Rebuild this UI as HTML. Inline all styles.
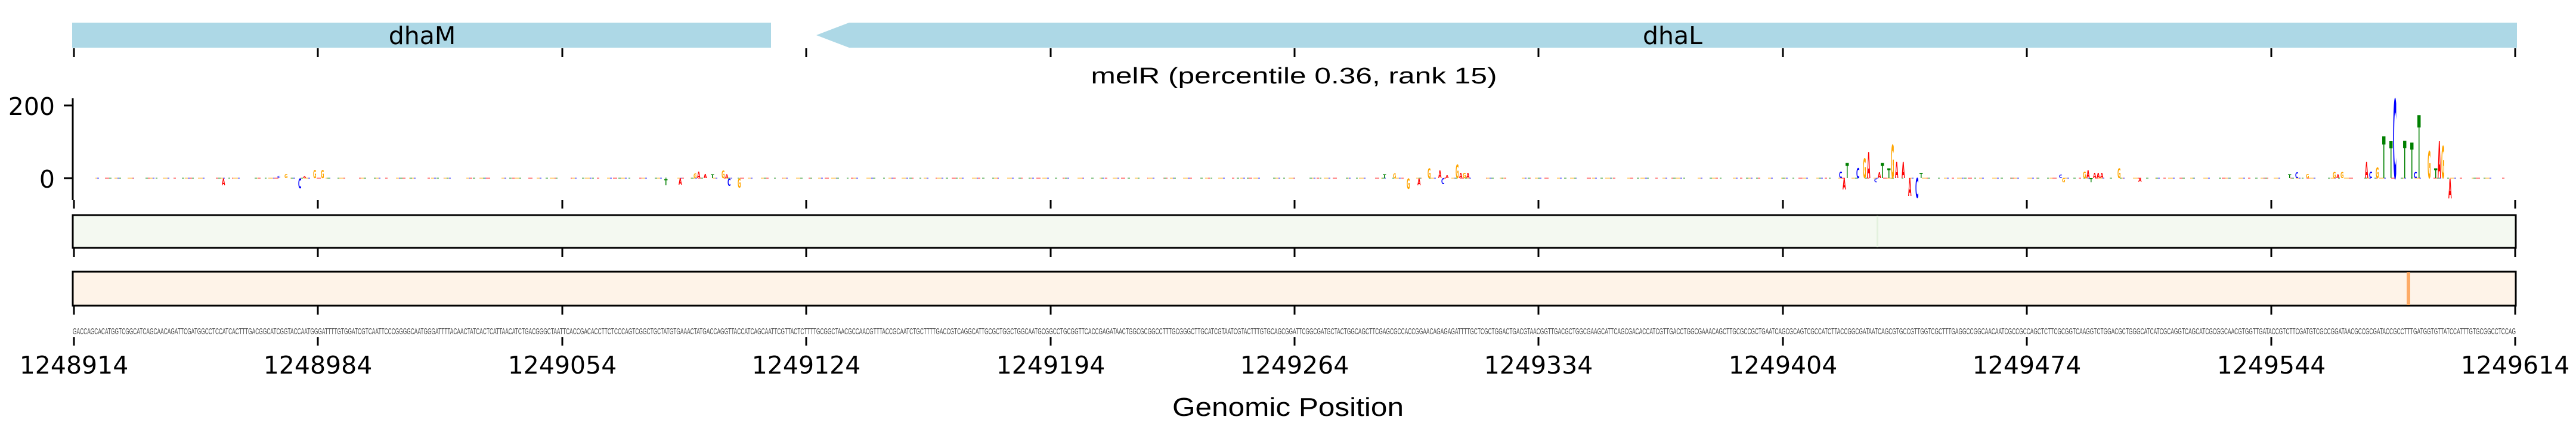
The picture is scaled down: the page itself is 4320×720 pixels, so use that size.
<!DOCTYPE html>
<html><head><meta charset="utf-8"><style>
html,body{margin:0;padding:0;background:#fff;}
svg{display:block;}
.t{font-family:"DejaVu Sans","Liberation Sans",sans-serif;font-size:41px;fill:#000;}
.L{font-family:"DejaVu Sans","Liberation Sans",sans-serif;font-weight:bold;font-size:10px;}
.A{fill:#ff0000}.C{fill:#0000ff}.G{fill:#ffa500}.T{fill:#008000}
</style></head><body>
<svg width="4320" height="720" viewBox="0 0 4320 720" xmlns="http://www.w3.org/2000/svg">
<rect x="121" y="38" width="1172" height="42" fill="#add8e6"/>
<polygon points="1369,59 1424,38 4221,38 4221,80 1424,80" fill="#add8e6"/>
<text class="t" x="708" y="74" text-anchor="middle">dhaM</text>
<text class="t" x="2805" y="74" text-anchor="middle">dhaL</text>
<g stroke="#000" stroke-width="3">
<path d="M124,81v15M533,81v15M943,81v15M1352,81v15M1762,81v15M2171,81v15M2580,81v15M2990,81v15M3399,81v15M3809,81v15M4218,81v15"/>
<path d="M124,336v14M533,336v14M943,336v14M1352,336v14M1762,336v14M2171,336v14M2580,336v14M2990,336v14M3399,336v14M3809,336v14M4218,336v14"/>
<path d="M124,416v15M533,416v15M943,416v15M1352,416v15M1762,416v15M2171,416v15M2580,416v15M2990,416v15M3399,416v15M3809,416v15M4218,416v15"/>
<path d="M124,513v15M533,513v15M943,513v15M1352,513v15M1762,513v15M2171,513v15M2580,513v15M2990,513v15M3399,513v15M3809,513v15M4218,513v15"/>
<path d="M124,566v14M533,566v14M943,566v14M1352,566v14M1762,566v14M2171,566v14M2580,566v14M2990,566v14M3399,566v14M3809,566v14M4218,566v14"/>
<path d="M122,165V336M107,177h15M107,299h15"/>
</g>
<text class="t" x="2170" y="140" text-anchor="middle" textLength="681" lengthAdjust="spacingAndGlyphs" style="font-family:'Liberation Sans',sans-serif;font-size:38px">melR (percentile 0.36, rank 15)</text>
<text class="t" x="92" y="193" text-anchor="end">200</text>
<text class="t" x="92" y="315" text-anchor="end">0</text>
<g stroke-width="2" opacity="0.45">
<line x1="160" y1="299" x2="4200" y2="299" stroke="#0000ff" stroke-dasharray="6 31 3 19" />
<line x1="160" y1="299" x2="4200" y2="299" stroke="#ff0000" stroke-dasharray="4 23 7 37" stroke-dashoffset="11"/>
<line x1="160" y1="299" x2="4200" y2="299" stroke="#ffa500" stroke-dasharray="8 29 5 17" stroke-dashoffset="5"/>
<line x1="160" y1="299" x2="4200" y2="299" stroke="#008000" stroke-dasharray="3 41 4 13" stroke-dashoffset="21"/>
</g>
<g>
<text class="L C" transform="translate(465,299) scale(1,0.5)" textLength="5.5" lengthAdjust="spacingAndGlyphs">C</text>
<text class="L G" transform="translate(477,299) scale(1,0.95)" textLength="5.5" lengthAdjust="spacingAndGlyphs">G</text>
<text class="L A" transform="translate(508,299) scale(1,0.45)" textLength="5.5" lengthAdjust="spacingAndGlyphs">A</text>
<text class="L C" transform="translate(500,316) scale(1,2.2)" textLength="5.5" lengthAdjust="spacingAndGlyphs">C</text>
<text class="L G" transform="translate(525,299) scale(1,1.9)" textLength="5.5" lengthAdjust="spacingAndGlyphs">G</text>
<text class="L G" transform="translate(538,299) scale(1,1.9)" textLength="5.5" lengthAdjust="spacingAndGlyphs">G</text>
<text class="L A" transform="translate(372,311) scale(1,1.6)" textLength="5.5" lengthAdjust="spacingAndGlyphs">A</text>
<text class="L T" transform="translate(1114,311) scale(1,1.4)" textLength="5.5" lengthAdjust="spacingAndGlyphs">T</text>
<text class="L A" transform="translate(1138,310) scale(1,1.5)" textLength="5.5" lengthAdjust="spacingAndGlyphs">A</text>
<text class="L G" transform="translate(1163,299) scale(1,1.1)" textLength="5.5" lengthAdjust="spacingAndGlyphs">G</text>
<text class="L A" transform="translate(1169,299) scale(1,1.5)" textLength="5.5" lengthAdjust="spacingAndGlyphs">A</text>
<text class="L A" transform="translate(1180,299) scale(1,1.0)" textLength="5.5" lengthAdjust="spacingAndGlyphs">A</text>
<text class="L T" transform="translate(1192,299) scale(1,0.9)" textLength="5.5" lengthAdjust="spacingAndGlyphs">T</text>
<text class="L G" transform="translate(1210,299) scale(1,1.8)" textLength="5.5" lengthAdjust="spacingAndGlyphs">G</text>
<text class="L A" transform="translate(1216,299) scale(1,0.9)" textLength="5.5" lengthAdjust="spacingAndGlyphs">A</text>
<text class="L C" transform="translate(1220,312) scale(1,1.7)" textLength="5.5" lengthAdjust="spacingAndGlyphs">C</text>
<text class="L G" transform="translate(1237,315) scale(1,2.1)" textLength="5.5" lengthAdjust="spacingAndGlyphs">G</text>
<text class="L T" transform="translate(2319,299) scale(1,0.9)" textLength="5.5" lengthAdjust="spacingAndGlyphs">T</text>
<text class="L G" transform="translate(2336,299) scale(1,1.1)" textLength="5.5" lengthAdjust="spacingAndGlyphs">G</text>
<text class="L G" transform="translate(2359,317) scale(1,2.4)" textLength="5.5" lengthAdjust="spacingAndGlyphs">G</text>
<text class="L A" transform="translate(2377,311) scale(1,1.6)" textLength="5.5" lengthAdjust="spacingAndGlyphs">A</text>
<text class="L G" transform="translate(2394,299) scale(1,2.2)" textLength="5.5" lengthAdjust="spacingAndGlyphs">G</text>
<text class="L A" transform="translate(2412,299) scale(1,1.8)" textLength="5.5" lengthAdjust="spacingAndGlyphs">A</text>
<text class="L C" transform="translate(2417,309) scale(1,1.3)" textLength="5.5" lengthAdjust="spacingAndGlyphs">C</text>
<text class="L A" transform="translate(2424,299) scale(1,0.7)" textLength="5.5" lengthAdjust="spacingAndGlyphs">A</text>
<text class="L G" transform="translate(2441,299) scale(1,3.1)" textLength="5.5" lengthAdjust="spacingAndGlyphs">G</text>
<text class="L A" transform="translate(2447,299) scale(1,1.25)" textLength="5.5" lengthAdjust="spacingAndGlyphs">A</text>
<text class="L G" transform="translate(2453,299) scale(1,1.25)" textLength="5.5" lengthAdjust="spacingAndGlyphs">G</text>
<text class="L A" transform="translate(2459,299) scale(1,1.25)" textLength="5.5" lengthAdjust="spacingAndGlyphs">A</text>
<text class="L C" transform="translate(3084,299) scale(1,1.5)" textLength="5.5" lengthAdjust="spacingAndGlyphs">C</text>
<text class="L A" transform="translate(3090,318) scale(1,2.6)" textLength="5.5" lengthAdjust="spacingAndGlyphs">A</text>
<text class="L T" transform="translate(3095,299) scale(1,3.5)" textLength="5.5" lengthAdjust="spacingAndGlyphs">T</text>
<text class="L C" transform="translate(3113,299) scale(1,2.3)" textLength="5.5" lengthAdjust="spacingAndGlyphs">C</text>
<text class="L G" transform="translate(3124,299) scale(1,4.5)" textLength="5.5" lengthAdjust="spacingAndGlyphs">G</text>
<text class="L A" transform="translate(3131,299) scale(1,6.0)" textLength="5.5" lengthAdjust="spacingAndGlyphs">A</text>
<text class="L C" transform="translate(3143,306) scale(1,0.9)" textLength="5.5" lengthAdjust="spacingAndGlyphs">C</text>
<text class="L A" transform="translate(3149,299) scale(1,1.3)" textLength="5.5" lengthAdjust="spacingAndGlyphs">A</text>
<text class="L T" transform="translate(3154,299) scale(1,3.5)" textLength="5.5" lengthAdjust="spacingAndGlyphs">T</text>
<text class="L T" transform="translate(3165,299) scale(1,2.2)" textLength="5.5" lengthAdjust="spacingAndGlyphs">T</text>
<text class="L G" transform="translate(3171,299) scale(1,7.7)" textLength="5.5" lengthAdjust="spacingAndGlyphs">G</text>
<text class="L A" transform="translate(3178,299) scale(1,3.7)" textLength="5.5" lengthAdjust="spacingAndGlyphs">A</text>
<text class="L A" transform="translate(3189,299) scale(1,3.7)" textLength="5.5" lengthAdjust="spacingAndGlyphs">A</text>
<text class="L A" transform="translate(3200,329) scale(1,4.1)" textLength="5.5" lengthAdjust="spacingAndGlyphs">A</text>
<text class="L C" transform="translate(3212,332) scale(1,4.5)" textLength="5.5" lengthAdjust="spacingAndGlyphs">C</text>
<text class="L T" transform="translate(3219,299) scale(1,1.2)" textLength="5.5" lengthAdjust="spacingAndGlyphs">T</text>
<text class="L C" transform="translate(3453,299) scale(1,0.8)" textLength="5.5" lengthAdjust="spacingAndGlyphs">C</text>
<text class="L G" transform="translate(3458,306) scale(1,1.0)" textLength="5.5" lengthAdjust="spacingAndGlyphs">G</text>
<text class="L G" transform="translate(3493,299) scale(1,1.5)" textLength="5.5" lengthAdjust="spacingAndGlyphs">G</text>
<text class="L A" transform="translate(3499,299) scale(1,1.9)" textLength="5.5" lengthAdjust="spacingAndGlyphs">A</text>
<text class="L T" transform="translate(3504,306) scale(1,1.0)" textLength="5.5" lengthAdjust="spacingAndGlyphs">T</text>
<text class="L A" transform="translate(3510,299) scale(1,1.2)" textLength="5.5" lengthAdjust="spacingAndGlyphs">A</text>
<text class="L A" transform="translate(3516,299) scale(1,1.2)" textLength="5.5" lengthAdjust="spacingAndGlyphs">A</text>
<text class="L A" transform="translate(3522,299) scale(1,1.2)" textLength="5.5" lengthAdjust="spacingAndGlyphs">A</text>
<text class="L G" transform="translate(3551,299) scale(1,2.2)" textLength="5.5" lengthAdjust="spacingAndGlyphs">G</text>
<text class="L A" transform="translate(3586,305) scale(1,0.8)" textLength="5.5" lengthAdjust="spacingAndGlyphs">A</text>
<text class="L T" transform="translate(3837,299) scale(1,0.9)" textLength="5.5" lengthAdjust="spacingAndGlyphs">T</text>
<text class="L C" transform="translate(3849,299) scale(1,1.3)" textLength="5.5" lengthAdjust="spacingAndGlyphs">C</text>
<text class="L G" transform="translate(3867,299) scale(1,1.0)" textLength="5.5" lengthAdjust="spacingAndGlyphs">G</text>
<text class="L G" transform="translate(3912,299) scale(1,1.4)" textLength="5.5" lengthAdjust="spacingAndGlyphs">G</text>
<text class="L A" transform="translate(3918,299) scale(1,0.9)" textLength="5.5" lengthAdjust="spacingAndGlyphs">A</text>
<text class="L G" transform="translate(3925,299) scale(1,1.4)" textLength="5.5" lengthAdjust="spacingAndGlyphs">G</text>
<text class="L A" transform="translate(3966,299) scale(1,3.7)" textLength="5.5" lengthAdjust="spacingAndGlyphs">A</text>
<text class="L C" transform="translate(3973,299) scale(1,1.5)" textLength="5.5" lengthAdjust="spacingAndGlyphs">C</text>
<text class="L G" transform="translate(3984,299) scale(1,2.5)" textLength="5.5" lengthAdjust="spacingAndGlyphs">G</text>
<text class="L T" transform="translate(3995,299) scale(1,9.6)" textLength="5.5" lengthAdjust="spacingAndGlyphs">T</text>
<text class="L T" transform="translate(4007,299) scale(1,8.5)" textLength="5.5" lengthAdjust="spacingAndGlyphs">T</text>
<text class="L C" transform="translate(4013,299) scale(1,18.2)" textLength="6" lengthAdjust="spacingAndGlyphs">C</text>
<text class="L T" transform="translate(4030,299) scale(1,8.6)" textLength="5.5" lengthAdjust="spacingAndGlyphs">T</text>
<text class="L T" transform="translate(4042,299) scale(1,8.2)" textLength="5.5" lengthAdjust="spacingAndGlyphs">T</text>
<text class="L C" transform="translate(4048,299) scale(1,1.4)" textLength="5.5" lengthAdjust="spacingAndGlyphs">C</text>
<text class="L T" transform="translate(4054,299) scale(1,14.5)" textLength="5.5" lengthAdjust="spacingAndGlyphs">T</text>
<text class="L G" transform="translate(4071,299) scale(1,6.2)" textLength="5.5" lengthAdjust="spacingAndGlyphs">G</text>
<text class="L T" transform="translate(4082,299) scale(1,2.2)" textLength="5.5" lengthAdjust="spacingAndGlyphs">T</text>
<text class="L A" transform="translate(4088,299) scale(1,8.5)" textLength="5.5" lengthAdjust="spacingAndGlyphs">A</text>
<text class="L G" transform="translate(4094,299) scale(1,7.4)" textLength="5.5" lengthAdjust="spacingAndGlyphs">G</text>
<text class="L A" transform="translate(4106,333) scale(1,4.5)" textLength="5.5" lengthAdjust="spacingAndGlyphs">A</text>
</g>
<rect x="122" y="361" width="4097" height="55" fill="#f4f9f1" stroke="#000" stroke-width="3"/>
<rect x="3147" y="362" width="3" height="53" fill="#e3f1de"/>
<rect x="122" y="456" width="4097" height="57" fill="#fef3e8" stroke="#000" stroke-width="3"/>
<rect x="4036" y="457" width="6" height="55" fill="#fdab67"/>
<text x="122" y="561" textLength="4097" lengthAdjust="spacingAndGlyphs" style="font-family:'Liberation Sans',sans-serif;font-size:15px;fill:#444">GACCAGCACATGGTCGGCATCAGCAACAGATTCGATGGCCTCCATCACTTTGACGGCATCGGTACCAATGGGATTTTGTGGATCGTCAATTCCCGGGGCAATGGGATTTTACAACTATCACTCATTAACATCTGACGGGCTAATTCACCGACACCTTCTCCCAGTCGGCTGCTATGTGAAACTATGACCAGGTTACCATCAGCAATTCGTTACTCTTTTGCGGCTAACGCCAACGTTTACCGCAATCTGCTTTTGACCGTCAGGCATTGCGCTGGCTGGCAATGCGGCCTGCGGTTCACCGAGATAACTGGCGCGGCCTTTGCGGGCTTGCATCGTAATCGTACTTTGTGCAGCGGATTCGGCGATGCTACTGGCAGCTTCGAGCGCCACCGGAACAGAGAGATTTTGCTCGCTGGACTGACGTAACGGTTGACGCTGGCGAAGCATTCAGCGACACCATCGTTGACCTGGCGAAACAGCTTGCGCCGCTGAATCAGCGCAGTCGCCATCTTACCGGCGATAATCAGCGTGCCGTTGGTCGCTTTGAGGCCGGCAACAATCGCCGCCAGCTCTTCGCGGTCAAGGTCTGGACGCTGGGCATCATCGCAGGTCAGCATCGCGGCAACGTGGTTGATACCGTCTTCGATGTCGCCGGATAACGCCGCGATACCGCCTTTGATGGTGTTATCCATTTGTGCGGCCTCCAG</text>
<g class="t" text-anchor="middle">
<text x="124" y="627">1248914</text>
<text x="533" y="627">1248984</text>
<text x="943" y="627">1249054</text>
<text x="1352" y="627">1249124</text>
<text x="1762" y="627">1249194</text>
<text x="2171" y="627">1249264</text>
<text x="2580" y="627">1249334</text>
<text x="2990" y="627">1249404</text>
<text x="3399" y="627">1249474</text>
<text x="3809" y="627">1249544</text>
<text x="4218" y="627">1249614</text>
</g>
<text x="2160" y="698" text-anchor="middle" textLength="388" lengthAdjust="spacingAndGlyphs" style="font-family:'Liberation Sans',sans-serif;font-size:44px">Genomic Position</text>
</svg>
</body></html>
